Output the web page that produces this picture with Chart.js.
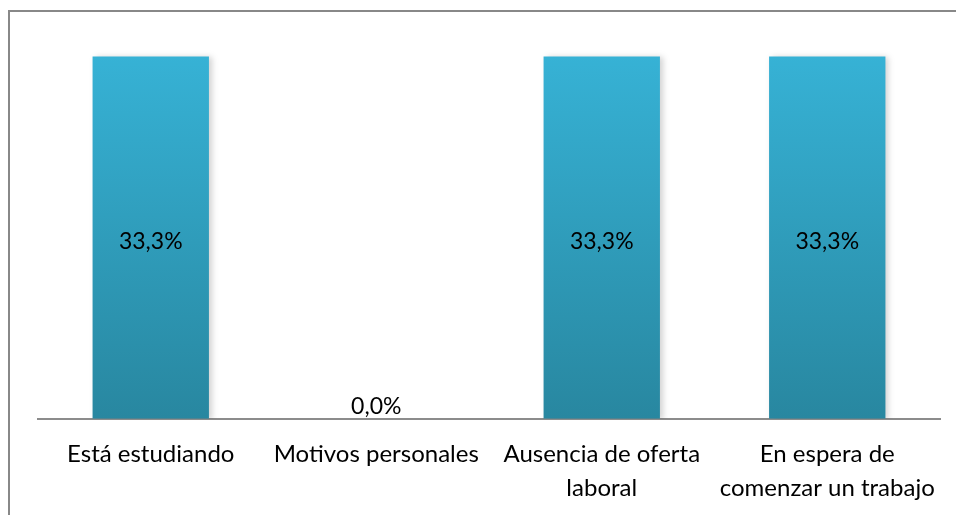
<!DOCTYPE html>
<html lang="es">
  <head>
    <meta charset="utf-8" />
    <script src="https://cdn.jsdelivr.net/npm/chart.js@4.4.1/dist/chart.umd.min.js"></script>
    <style>
      body { margin: 0; background: #fff; overflow: hidden; }
      #frame {
        position: absolute; left: 8px; top: 10px;
        width: 960px; height: 520px;
        border: 2px solid #888888;
        pointer-events: none;
      }
      #wrap { position: absolute; left: 0; top: 0; width: 956px; height: 535px; }
    </style>
  </head>
  <body>
    <div id="wrap"><canvas id="myChart" width="956" height="535"></canvas></div>
    <div id="frame"></div>

    <script>
      const categories = [
        'Está estudiando',
        'Motivos personales',
        ['Ausencia de oferta', 'laboral'],
        ['En espera de', 'comenzar un trabajo']
      ];
      const values = [33.3, 0.0, 33.3, 33.3];

      const fontFamily = "Lato, 'Open Sans', sans-serif";

      // value labels: centered in the bar, or just above the axis when zero
      const valueLabels = {
        id: 'valueLabels',
        afterDatasetsDraw(chart) {
          const ctx = chart.ctx;
          const meta = chart.getDatasetMeta(0);
          ctx.save();
          ctx.font = '23px ' + fontFamily;
          ctx.fillStyle = '#000';
          ctx.textAlign = 'center';
          ctx.textBaseline = 'middle';
          meta.data.forEach((bar, i) => {
            const txt = values[i].toFixed(1).replace('.', ',') + '%';
            let y = (bar.y + bar.base) / 2 + 4;
            if (values[i] === 0) y = bar.base - 12;
            ctx.fillText(txt, bar.x, y);
          });
          ctx.restore();
        }
      };

      const barShadow = {
        id: 'barShadow',
        beforeDatasetsDraw(chart) {
          const ctx = chart.ctx;
          ctx.save();
          ctx.shadowColor = 'rgba(0,0,0,0.18)';
          ctx.shadowBlur = 6;
          ctx.shadowOffsetX = 3;
          ctx.shadowOffsetY = 1;
        },
        afterDatasetsDraw(chart) {
          chart.ctx.restore();
        }
      };

      new Chart(document.getElementById('myChart'), {
        type: 'bar',
        data: {
          labels: categories,
          datasets: [{
            data: values,
            backgroundColor: (c) => {
              const area = c.chart.chartArea;
              if (!area) return '#36b2d6';
              const g = c.chart.ctx.createLinearGradient(0, area.top, 0, area.bottom);
              g.addColorStop(0, '#37b4d8');
              g.addColorStop(1, '#2887a0');
              return g;
            },
            borderWidth: 0,
            categoryPercentage: 1,
            barPercentage: 0.516
          }]
        },
        options: {
          responsive: false,
          animation: false,
          layout: { padding: { left: 38, right: 16, top: 38, bottom: 11 } },
          plugins: {
            legend: { display: false },
            tooltip: { enabled: false }
          },
          scales: {
            x: {
              grid: { display: false, drawTicks: false },
              border: { display: true, color: '#8c8c8c', width: 2 },
              ticks: {
                color: '#000',
                padding: 19,
                maxRotation: 0,
                autoSkip: false,
                font: { family: fontFamily, size: 24, lineHeight: 1.4 }
              }
            },
            y: {
              display: false,
              min: 0,
              max: 35
            }
          }
        },
        plugins: [barShadow, valueLabels]
      });
    </script>
  </body>
</html>
